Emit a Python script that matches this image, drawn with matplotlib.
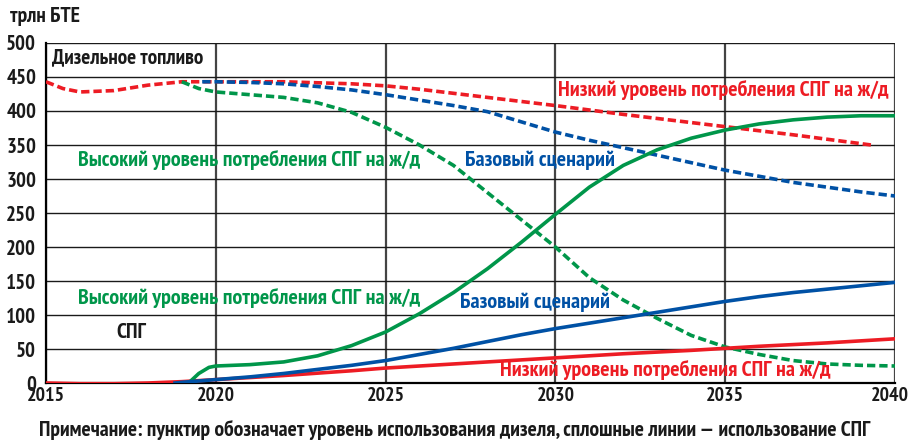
import numpy as np
import matplotlib.pyplot as plt
from matplotlib.transforms import ScaledTranslation

#%%# data

# diesel (dashed)
years_low_d=[2015,2015.5,2016,2017,2018,2019,2020,2022,2024,2025,2026,2027,2028,2030,2032,2034,2035,2037,2039.3]
low_diesel=[443,433,428,430,438,443,443,443,440,437,432,426,420,408,395,383,377,365,350]
years_base_d=[2019.6,2020,2021,2022,2023,2024,2025,2026,2027,2028,2029,2030,2031,2032,2033,2034,2035,2036,2037,2038,2039,2040]
base_diesel=[443,443,442,440,436,431,424,416,408,399,384,369,357,346,335,324,313,304,295,288,281,275]
years_high_d=[2019,2019.5,2020,2021,2022,2023,2024,2025,2026,2027,2028,2029,2030,2031,2032,2033,2034,2035,2036,2037,2038,2039,2040]
high_diesel=[443,433,428,424,420,412,398,376,350,320,280,240,200,155,122,95,70,53,42,33,28,26,25]

# LNG (solid)
years_low_l=[2015,2016,2017,2018,2019,2020,2022,2024,2025,2026,2028,2030,2032,2034,2035,2036,2038,2040]
low_lng=[0,-1,-1,0,2,5,11,18,22,25,31,37,43,48,51,54,59,65]
years_base_l=[2018.8,2019,2020,2021,2022,2023,2024,2025,2026,2027,2028,2029,2030,2031,2032,2033,2034,2035,2036,2037,2038,2039,2040]
base_lng=[0,1,5,9,14,20,26,33,42,51,61,71,80,88,96,104,112,120,127,133,138,143,148]
years_high_l=[2019.2,2019.5,2019.8,2020,2021,2022,2023,2024,2025,2026,2027,2028,2029,2030,2031,2032,2033,2034,2035,2036,2037,2038,2039,2040]
high_lng=[0,14,23,25,27,31,40,55,75,102,133,168,207,248,288,320,343,360,372,381,387,391,393,393]

#%%# style

red="#ED1C24"
green="#00964A"
blue="#0051A5"
dark="#1a1a1a"
plt.rcParams['font.family']=['PT Sans Narrow','Roboto Condensed','DejaVu Sans']
plt.rcParams['font.weight']='bold'

fig=plt.figure(figsize=(9.1,4.41),dpi=100)
ax=fig.add_axes([0.0505,0.1315,0.933,0.771])

lw=2.6
ds=(2.3,1.1)
ax.plot(years_low_d,low_diesel,color=red,lw=lw,dashes=ds,zorder=3)
ax.plot(years_base_d,base_diesel,color=blue,lw=lw,dashes=ds,zorder=3)
ax.plot(years_high_d,high_diesel,color=green,lw=lw,dashes=ds,zorder=3)
ax.plot(years_low_l,low_lng,color=red,lw=lw,zorder=3)
ax.plot(years_high_l,high_lng,color=green,lw=lw,zorder=3)
ax.plot(years_base_l,base_lng,color=blue,lw=lw,zorder=4)

ax.set_xlim(2015,2040)
ax.set_ylim(0,500)
ax.set_xticks(range(2015,2041,5))
ax.set_yticks(range(0,501,50))
ax.yaxis.grid(True,color=dark,lw=1.0,zorder=1)
ax.xaxis.grid(True,color="#444444",lw=1.6,zorder=1)
for s in ax.spines.values():
    s.set_visible(False)
ax.spines['left'].set_visible(True)
ax.spines['left'].set_linewidth(1.6)
ax.spines['bottom'].set_visible(True)
ax.spines['bottom'].set_linewidth(1.6)
ax.tick_params(length=0,labelsize=15,pad=3,colors=dark)
ax.tick_params(axis='x',labelsize=14.3)
ax.tick_params(axis='y',pad=7)
for t in ax.get_xticklabels()+ax.get_yticklabels():
    t.set_fontweight('bold')
# nudge the last year label so it stays inside the figure
last=ax.get_xticklabels()[-1]
last.set_transform(last.get_transform()+ScaledTranslation(-5/100,0,fig.dpi_scale_trans))
ax.set_axisbelow(True)

#%%# text labels

fs=15.8
fig.text(0.011,0.962,"трлн БТЕ",fontsize=15.5,fontweight='bold',va='center',color=dark)
ax.text(2015.18,478,"Дизельное топливо",fontsize=15.3,fontweight='bold',va='center',color=dark)
ax.text(2017.06,74,"СПГ",fontsize=fs,fontweight='bold',va='center',color=dark)
ax.text(2039.8,431,"Низкий уровень потребления СПГ на ж/д",fontsize=fs,fontweight='bold',va='center',ha='right',color=red)
ax.text(2015.94,328,"Высокий уровень потребления СПГ на ж/д",fontsize=fs,fontweight='bold',va='center',color=green)
ax.text(2027.34,328,"Базовый сценарий",fontsize=fs,fontweight='bold',va='center',color=blue)
ax.text(2015.94,125,"Высокий уровень потребления СПГ на ж/д",fontsize=fs,fontweight='bold',va='center',color=green)
ax.text(2027.19,119,"Базовый сценарий",fontsize=fs,fontweight='bold',va='center',color=blue)
ax.text(2028.37,19,"Низкий уровень потребления СПГ на ж/д",fontsize=fs,fontweight='bold',va='center',color=red)
fig.text(0.5,0.025,"Примечание: пунктир обозначает уровень использования дизеля, сплошные линии — использование СПГ",
         fontsize=15.6,fontweight='bold',ha='center',va='center',color=dark)

fig.savefig("out.png",dpi=100)
